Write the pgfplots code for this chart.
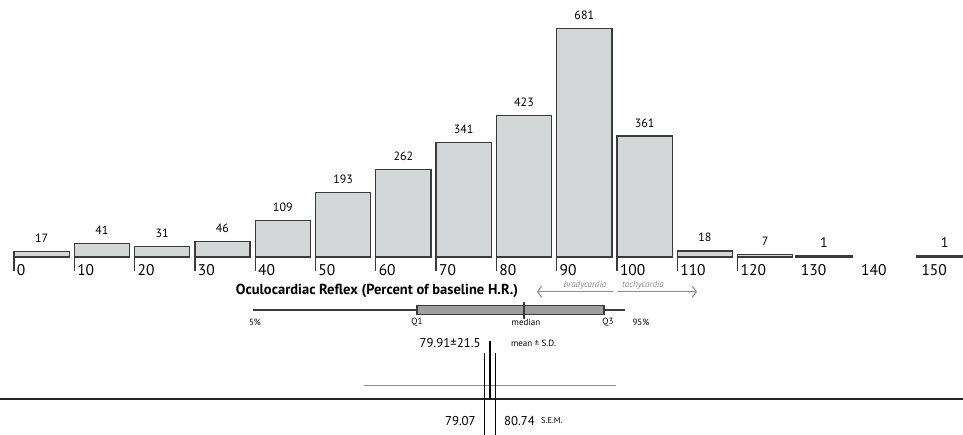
\documentclass[border=0pt]{standalone}
\usepackage{fontspec}
\setmainfont{PT Sans}
\usepackage{pgfplots}
\pgfplotsset{compat=1.18}
\usepackage{pgfplotstable}
\usetikzlibrary{arrows.meta}

\definecolor{barfill}{HTML}{D4D7D8}
\definecolor{bardraw}{HTML}{3A3A3A}
\definecolor{boxfill}{HTML}{9E9E9E}
\definecolor{arrowgrey}{HTML}{8C8C8C}

% histogram of oculocardiac reflex, bins of 10 %
\pgfplotstableread{
bin count
0   17
10  41
20  31
30  46
40  109
50  193
60  262
70  341
80  423
90  681
100 361
110 18
120 7
}\hist

\pgfplotstableread{
bin count
130 1
150 1
}\single

\pgfplotstableread{
pos lab
0   0
10  10
20  20
30  30
40  40
50  50
60  60
70  70
80  80
90  90
100 100
110 110
120 120
130 130
140 140
150 150
}\ticklab

\begin{document}
\begin{tikzpicture}
\begin{axis}[
  name=ax,
  width=963pt, height=435pt, scale only axis,
  xmin=-2.32, xmax=157.38,
  ymin=-531.3, ymax=767.1,
  hide axis, clip=false,
  /pgf/number format/assume math mode=true,
]

% bars
\addplot[ybar, bar width=9.15, bar shift=0pt, fill=barfill, draw=bardraw, line width=1.3pt,
  nodes near coords,
  every node near coord/.style={anchor=base, inner sep=0pt, yshift=9pt, text=black,
    font=\fontsize{12}{14}\selectfont}]
  table[x expr=\thisrow{bin}+4.575, y=count]{\hist};
\addplot[ybar, bar width=9.15, bar shift=0pt, fill=bardraw, draw=bardraw, line width=3pt,
  nodes near coords,
  every node near coord/.style={anchor=base, inner sep=0pt, yshift=9pt, text=black,
    font=\fontsize{14}{16}\selectfont}]
  table[x expr=\thisrow{bin}+4.33, y=count]{\single};

% tick lines under the bars
\addplot[ycomb, draw=bardraw, line width=1.3pt] table[x=bin, y expr=-42]{\hist};

% tick labels
\addplot[draw=none, point meta=explicit symbolic, nodes near coords,
  every node near coord/.style={anchor=base west, inner sep=0pt, xshift=2.8pt, text=black,
    font=\fontsize{15.5}{18}\selectfont}]
  table[x=pos, y expr=-56, meta=lab]{\ticklab};

\node[font=\bfseries\fontsize{14.5}{16}\selectfont, anchor=base] at (axis cs:60.2,-113.4)
  {Oculocardiac Reflex (Percent of baseline H.R.)};

% bradycardia / tachycardia arrow
\addplot[arrowgrey, line width=1.1pt, {Straight Barb[length=4pt, width=11pt]}-]
  coordinates {(86.73,-103.6) (99.34,-103.6)};
\addplot[arrowgrey, line width=1.1pt, -{Straight Barb[length=4pt, width=11pt]}]
  coordinates {(100.17,-103.6) (113.27,-103.6)};
\node[font=\itshape\fontsize{9}{11}\selectfont, text=arrowgrey] at (axis cs:94.69,-83.6) {bradycardia};
\node[font=\itshape\fontsize{9}{11}\selectfont, text=arrowgrey] at (axis cs:104.31,-83.6) {tachycardia};

% box plot: 5%, Q1, median, Q3, 95%
\addplot[bardraw, line width=1.8pt] coordinates {(39.63,-158.2) (101.33,-158.2)};
\addplot[fill=boxfill, draw=bardraw, line width=1.1pt]
  coordinates {(66.83,-145.4) (97.84,-145.4) (97.84,-171.1) (66.83,-171.1)} -- cycle;
\addplot[bardraw, line width=1.5pt] coordinates {(84.58,-133.4) (84.58,-185.1)};
\begin{scope}[every node/.style={font=\fontsize{9}{11}\selectfont}]
\node at (axis cs:39.97,-194) {5\%};
\node at (axis cs:66.83,-194) {Q1};
\node at (axis cs:84.91,-196) {median};
\node at (axis cs:98.51,-194) {Q3};
\node at (axis cs:102.16,-194) [anchor=west, xshift=-1pt] {95\%};
\end{scope}

% mean +- S.D. and S.E.M.
\addplot[arrowgrey, line width=1pt] coordinates {(58.04,-382.1) (99.83,-382.1)};
\addplot[black!85, line width=1.9pt] coordinates {(-2.32,-423.9) (157.38,-423.9)};
\addplot[black, line width=1.1pt] coordinates {(78.94,-250.7) (78.94,-423.9)};
\addplot[black, line width=1.1pt] coordinates {(78.00,-286.6) (78.00,-531.3)};
\addplot[black, line width=1.1pt] coordinates {(79.87,-286.6) (79.87,-531.3)};

\node[anchor=east, inner sep=0pt, font=\fontsize{12.8}{14}\selectfont] at (axis cs:77.4,-256.7) {79.91±21.5};
\node[anchor=west, inner sep=0pt, font=\fontsize{9}{11}\selectfont] at (axis cs:82.4,-256.7) {mean ± S.D.};
\node[anchor=east, inner sep=0pt, font=\fontsize{12.8}{15}\selectfont] at (axis cs:76.6,-488.6) {79.07};
\node[anchor=west, inner sep=0pt, font=\fontsize{12.8}{15}\selectfont] at (axis cs:81.26,-488.6) {80.74};
\node[anchor=west, inner sep=0pt, font=\fontsize{8.5}{10}\selectfont] at (axis cs:87.4,-488.6) {S.E.M.};
\end{axis}
\pgfresetboundingbox
\path[use as bounding box] (ax.south west) rectangle (ax.north east);
\end{tikzpicture}
\end{document}
